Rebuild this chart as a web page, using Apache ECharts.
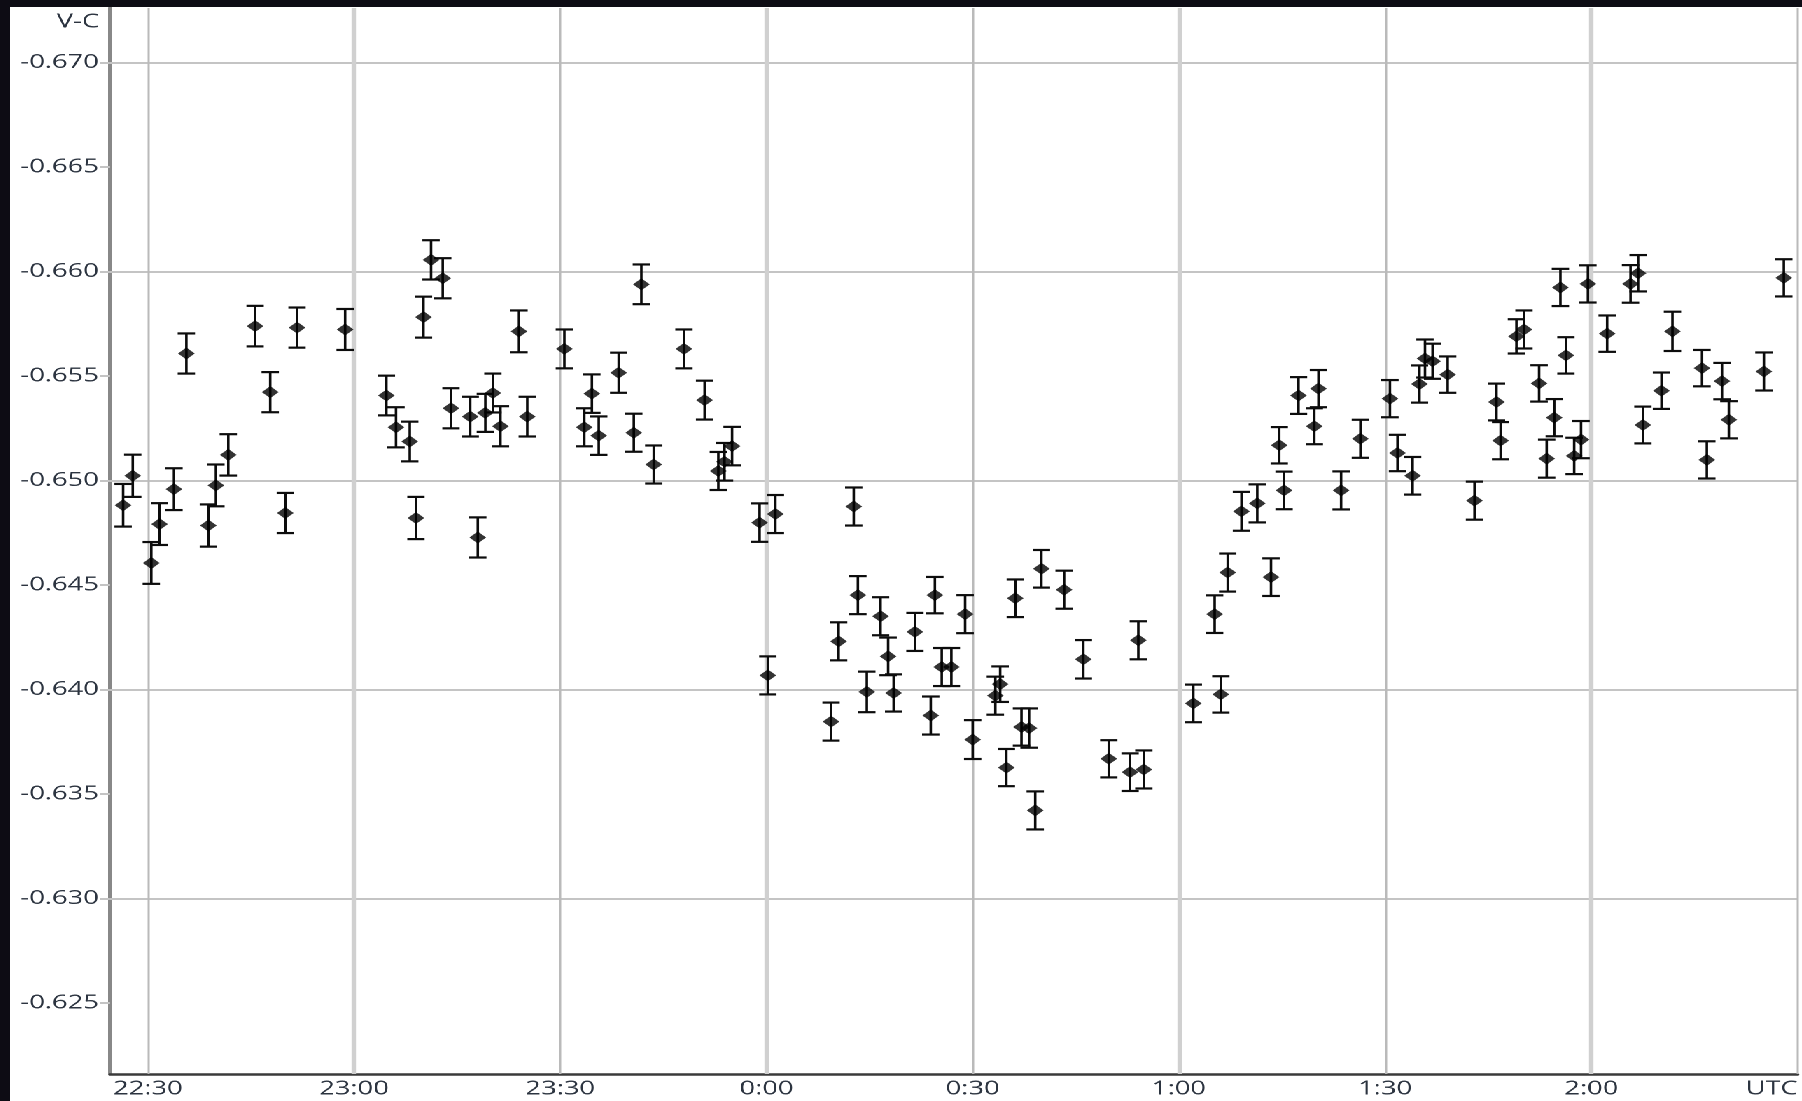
<!DOCTYPE html>
<html>
<head>
<meta charset="utf-8">
<title>V-C</title>
<script src="https://cdn.jsdelivr.net/npm/echarts@6/dist/echarts.min.js"></script>
<style>
  html, body { margin: 0; padding: 0; background: #0d0c14; width: 1802px; height: 1101px; overflow: hidden; }
  /* the plot panel is laid out narrow and widened horizontally */
  #chart {
    position: absolute; left: 10px; top: 7px;
    width: 1280px; height: 1094px;
    background: #ffffff;
    transform: scaleX(1.4); transform-origin: 0 0;
  }
</style>
</head>
<body>
<div id="chart"></div>
<script>
// Observation times, minutes from 0:00 UTC (negative = before midnight)
const obsMinutes = [
  -93.6, -92.2, -89.5, -88.3, -86.2, -84.4, -81.2, -80.1, -78.3, -74.4,
  -72.2, -70.0, -68.3, -61.3, -55.3, -53.9, -51.9, -51.0, -49.9, -48.8,
  -47.1, -45.9, -43.1, -42.0, -40.9, -39.8, -38.7, -36.0, -34.8, -29.4,
  -26.5, -25.4, -24.4, -21.5, -19.3, -18.2, -16.4, -12.0, -9.0, -7.0,
  -6.1, -5.0, -1.0, 0.2, 1.3, 9.4, 10.5, 12.7, 13.3, 14.6,
  16.6, 17.7, 18.5, 21.6, 23.9, 24.5, 25.5, 26.9, 28.9, 30.0,
  33.3, 34.0, 34.9, 36.2, 37.1, 38.2, 39.1, 40.0, 43.3, 46.1,
  49.8, 52.9, 54.1, 54.9, 62.1, 65.2, 66.1, 67.1, 69.1, 71.4,
  73.4, 74.6, 75.3, 77.4, 79.7, 80.3, 83.6, 86.4, 90.7, 91.8,
  94.0, 95.0, 95.8, 96.9, 99.1, 103.0, 106.2, 106.8, 109.1, 110.2,
  112.4, 113.5, 114.6, 115.5, 116.3, 117.5, 118.5, 119.5, 122.3, 125.7,
  126.8, 127.5, 130.2, 131.8, 136.1, 136.8, 139.0, 140.0, 145.1, 148.0
];

// Differential magnitude, variable minus comparison
const vMinusC = [
  -0.64881, -0.65022, -0.64605, -0.64791, -0.64958, -0.65607, -0.64784, -0.64976, -0.65122, -0.65738,
  -0.65422, -0.64844, -0.65731, -0.65722, -0.65406, -0.65254, -0.65186, -0.64820, -0.65781, -0.66055,
  -0.65967, -0.65345, -0.65305, -0.64727, -0.65323, -0.65418, -0.65259, -0.65713, -0.65305, -0.65629,
  -0.65254, -0.65415, -0.65214, -0.65515, -0.65228, -0.65938, -0.65076, -0.65629, -0.65384, -0.65045,
  -0.65089, -0.65164, -0.64798, -0.64067, -0.64839, -0.63846, -0.64230, -0.64875, -0.64451, -0.63988,
  -0.64350, -0.64158, -0.63983, -0.64275, -0.63875, -0.64451, -0.64107, -0.64107, -0.64360, -0.63760,
  -0.63970, -0.64025, -0.63626, -0.64436, -0.63820, -0.63815, -0.63421, -0.64577, -0.64477, -0.64144,
  -0.63668, -0.63604, -0.64235, -0.63617, -0.63933, -0.64360, -0.63976, -0.64559, -0.64852, -0.64890,
  -0.64537, -0.65168, -0.64952, -0.65406, -0.65259, -0.65439, -0.64952, -0.65199, -0.65391, -0.65131,
  -0.65022, -0.65461, -0.65583, -0.65570, -0.65506, -0.64903, -0.65375, -0.65190, -0.65689, -0.65722,
  -0.65464, -0.65104, -0.65300, -0.65923, -0.65598, -0.65117, -0.65195, -0.65940, -0.65702, -0.65940,
  -0.65991, -0.65265, -0.65429, -0.65713, -0.65537, -0.65098, -0.65475, -0.65290, -0.65521, -0.65969
];

// One-sigma uncertainty of each measurement (mag)
const vErr = [
  0.00102, 0.00101, 0.00100, 0.00100, 0.00100, 0.00096, 0.00101, 0.00100, 0.00099, 0.00097,
  0.00096, 0.00096, 0.00096, 0.00098, 0.00095, 0.00096, 0.00095, 0.00101, 0.00098, 0.00094,
  0.00096, 0.00096, 0.00095, 0.00096, 0.00091, 0.00093, 0.00096, 0.00100, 0.00095, 0.00093,
  0.00091, 0.00092, 0.00092, 0.00096, 0.00091, 0.00095, 0.00091, 0.00093, 0.00093, 0.00091,
  0.00090, 0.00092, 0.00092, 0.00091, 0.00091, 0.00091, 0.00091, 0.00091, 0.00091, 0.00097,
  0.00091, 0.00090, 0.00089, 0.00091, 0.00091, 0.00087, 0.00091, 0.00091, 0.00091, 0.00093,
  0.00091, 0.00085, 0.00089, 0.00090, 0.00089, 0.00094, 0.00091, 0.00090, 0.00091, 0.00092,
  0.00089, 0.00090, 0.00091, 0.00091, 0.00090, 0.00090, 0.00087, 0.00091, 0.00093, 0.00091,
  0.00090, 0.00087, 0.00090, 0.00088, 0.00086, 0.00089, 0.00091, 0.00091, 0.00089, 0.00087,
  0.00090, 0.00089, 0.00091, 0.00084, 0.00087, 0.00091, 0.00088, 0.00089, 0.00082, 0.00091,
  0.00087, 0.00091, 0.00089, 0.00089, 0.00087, 0.00087, 0.00089, 0.00089, 0.00087, 0.00090,
  0.00087, 0.00088, 0.00087, 0.00094, 0.00087, 0.00089, 0.00087, 0.00089, 0.00091, 0.00089
];

// Time axis ticks (minutes from 0:00 UTC) and their labels
const xTickMinutes = [-90, -60, -30, 0, 30, 60, 90, 120, 150];
const xTickLabels = ['22:30', '23:00', '23:30', '0:00', '0:30', '1:00', '1:30', '2:00', 'UTC'];

// Magnitude axis tick labels
const yTickLabels = ['-0.670', '-0.665', '-0.660', '-0.655', '-0.650', '-0.645', '-0.640', '-0.635', '-0.630', '-0.625'];
const yTicks = yTickLabels.map(Number);

const FONT = '"Open Sans", "Noto Sans", sans-serif';
const FONT_SIZE = 19.5;
const TEXT_COLOR = '#2c3440';
const GRID_COLOR = '#c4c4c4';

const points = obsMinutes.map((m, i) => [m, vMinusC[i], vErr[i]]);

function labelAt(list, labels, v) {
  const i = list.findIndex(t => Math.abs(t - v) < 1e-7);
  return i >= 0 ? labels[i] : '';
}

const gridLines = [].concat(
  yTicks.map(v => ({ yAxis: v, lineStyle: { color: GRID_COLOR, width: 2, type: 'solid' } })),
  xTickMinutes.map(m => ({
    xAxis: m,
    lineStyle: (m % 60 === 0)
      ? { color: '#d0d0d0', width: 3.2, type: 'solid' }
      : { color: '#bababa', width: 1.5, type: 'solid' }
  }))
);

const CAP_HALF = 6.2;

const chart = echarts.init(document.getElementById('chart'), null, { renderer: 'canvas', devicePixelRatio: 2 });

chart.setOption({
  animation: false,
  backgroundColor: '#ffffff',
  grid: { left: 71.43, right: 1, top: 1, bottom: 27, containLabel: false },
  xAxis: {
    type: 'value',
    min: -95.5,
    max: 150,
    axisLine: { show: true, onZero: false, lineStyle: { color: '#3a3a3a', width: 2.5 } },
    axisTick: { show: false },
    splitLine: { show: false },
    axisLabel: {
      customValues: xTickMinutes,
      margin: 5,
      fontFamily: FONT,
      fontSize: FONT_SIZE,
      color: TEXT_COLOR,
      formatter: v => {
        const s = labelAt(xTickMinutes, xTickLabels, v);
        return v === 150 ? '{utc|' + s + '}' : s;
      },
      rich: {
        utc: { fontFamily: FONT, fontSize: FONT_SIZE, color: TEXT_COLOR, padding: [0, 37, 0, 0] }
      }
    }
  },
  yAxis: {
    type: 'value',
    inverse: true,
    min: -0.6726,
    max: -0.6216,
    axisLine: { show: true, onZero: false, lineStyle: { color: '#888888', width: 3 } },
    axisTick: { show: true, customValues: yTicks, inside: false, length: 7, lineStyle: { color: GRID_COLOR, width: 2 } },
    splitLine: { show: false },
    axisLabel: {
      customValues: yTicks,
      margin: 8,
      fontFamily: FONT,
      fontSize: FONT_SIZE,
      color: TEXT_COLOR,
      formatter: v => labelAt(yTicks, yTickLabels, v)
    }
  },
  graphic: [{
    type: 'text',
    x: 63.6,
    y: 15,
    style: {
      text: 'V-C',
      align: 'right',
      verticalAlign: 'middle',
      fontFamily: FONT,
      fontSize: FONT_SIZE,
      fill: TEXT_COLOR
    }
  }],
  series: [
    {
      // grid lines
      type: 'line',
      data: [],
      z: 1,
      silent: true,
      markLine: {
        z: 1,
        silent: true,
        symbol: 'none',
        animation: false,
        label: { show: false },
        emphasis: { disabled: true },
        data: gridLines
      }
    },
    {
      // error bars
      type: 'custom',
      z: 3,
      silent: true,
      data: points,
      encode: { x: 0, y: 1 },
      renderItem: (params, api) => {
        const x = api.value(0);
        const y = api.value(1);
        const e = api.value(2);
        const top = api.coord([x, y - e]);
        const bot = api.coord([x, y + e]);
        const stroke = '#0c0c0c';
        return {
          type: 'group',
          children: [
            { type: 'line', shape: { x1: top[0], y1: top[1], x2: bot[0], y2: bot[1] }, style: { stroke, lineWidth: 1.8 } },
            { type: 'line', shape: { x1: top[0] - CAP_HALF, y1: top[1], x2: top[0] + CAP_HALF, y2: top[1] }, style: { stroke, lineWidth: 2.2 } },
            { type: 'line', shape: { x1: bot[0] - CAP_HALF, y1: bot[1], x2: bot[0] + CAP_HALF, y2: bot[1] }, style: { stroke, lineWidth: 2.2 } }
          ]
        };
      }
    },
    {
      // measurements
      type: 'scatter',
      z: 4,
      silent: true,
      symbol: 'diamond',
      symbolSize: [12, 12],
      itemStyle: { color: '#000000' },
      data: points.map(p => [p[0], p[1]])
    }
  ]
});
</script>
</body>
</html>
